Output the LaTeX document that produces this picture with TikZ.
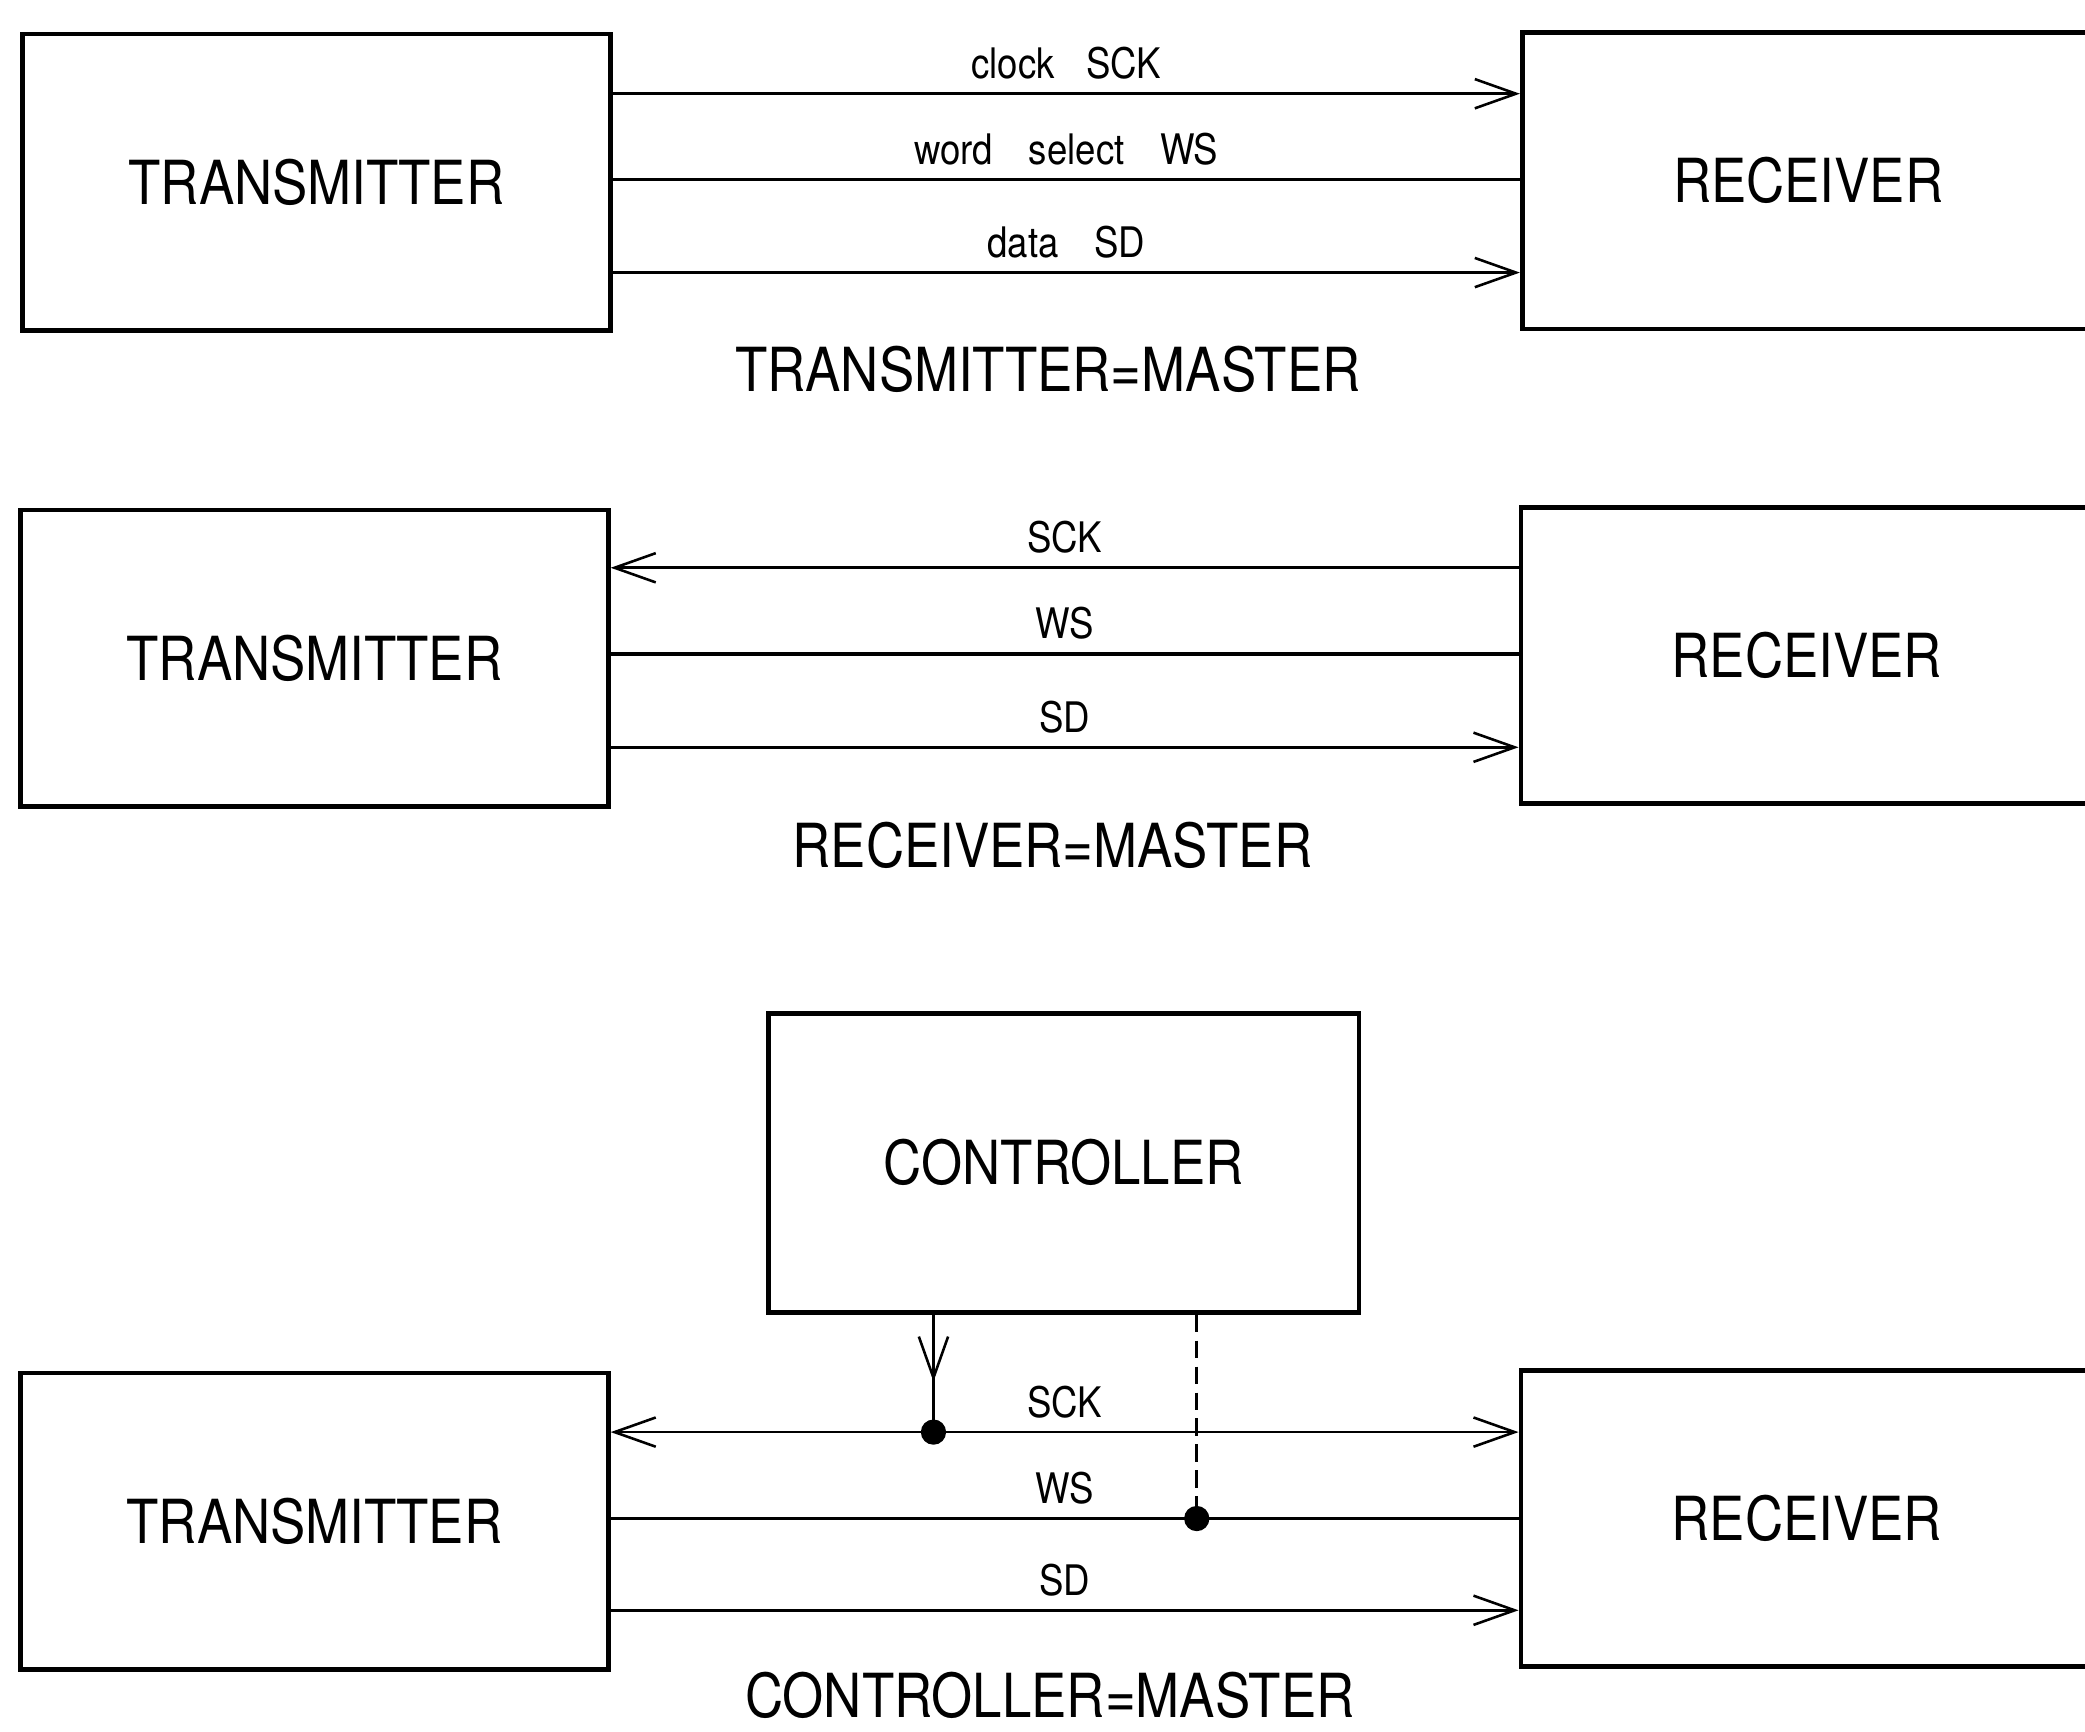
\documentclass[tikz,border=0pt]{standalone}
\usepackage{fontspec}
\setmainfont{TeX Gyre Heros}[FakeStretch=0.87]
\usetikzlibrary{arrows.meta,calc,positioning}
\newcommand{\boxfont}{\fontsize{26}{30}\selectfont}
\newcommand{\sigfont}{\fontsize{18}{21}\selectfont}

\begin{document}
\begin{tikzpicture}[
    >={Straight Barb[length=0.62cm,width=0.44cm]},
    unit/.style={draw, line width=2pt, minimum width=8.84cm, minimum height=4.46cm, inner sep=0pt, font=\boxfont},
    rxunit/.style={unit, anchor=west, minimum width=8.6cm},
    sig/.style={line width=1.1pt},
    wsig/.style={line width=1.6pt},
    lbl/.style={font=\sigfont, above, inner sep=5.5pt},
    mastertag/.style={font=\boxfont, inner sep=0pt},
    junction/.style={circle, fill, inner sep=0pt, minimum size=0.38cm}
  ]
  \useasboundingbox (0,0) rectangle (31.36,26.04);

  % Top: transmitter is master
  \node[unit] (tx1) at (4.76,23.30) {TRANSMITTER};
  \node[rxunit] (rx1) at (22.86,23.32) {RECEIVER};
  \coordinate (sck1) at ([yshift=1.33cm]tx1.east);
  \coordinate (ws1) at ([yshift=0.04cm]tx1.east);
  \coordinate (sd1) at ([yshift=-1.36cm]tx1.east);
  \draw[sig,->] (sck1) -- (sck1 -| rx1.west) node[lbl,midway] {clock\hspace{0.75em}SCK};
  \draw[wsig] (ws1) -- (ws1 -| rx1.west) node[lbl,midway] {word\hspace{0.85em}select\hspace{0.85em}WS};
  \draw[sig,->] (sd1) -- (sd1 -| rx1.west) node[lbl,midway] {data\hspace{0.85em}SD};
  \node[mastertag] (m1) at (15.76,20.48) {TRANSMITTER=MASTER};

  % Middle: receiver is master
  \node[unit] (tx2) at (4.73,16.14) {TRANSMITTER};
  \node[rxunit] (rx2) at (22.84,16.18) {RECEIVER};
  \coordinate (sck2) at ([yshift=1.36cm]tx2.east);
  \coordinate (ws2) at ([yshift=0.06cm]tx2.east);
  \coordinate (sd2) at ([yshift=-1.34cm]tx2.east);
  \draw[sig,->] (sck2 -| rx2.west) -- (sck2) node[lbl,midway] {SCK};
  \draw[wsig] (ws2) -- (ws2 -| rx2.west) node[lbl,midway] {WS};
  \draw[sig,->] (sd2) -- (sd2 -| rx2.west) node[lbl,midway] {SD};
  \node[mastertag] (m2) at (15.83,13.32) {RECEIVER=MASTER};

  % Bottom: controller is master
  \node[unit, minimum width=8.88cm, minimum height=4.5cm] (ctrl) at (16.0,8.55) {CONTROLLER};
  \node[unit] (tx3) at (4.73,3.16) {TRANSMITTER};
  \node[rxunit] (rx3) at (22.84,3.20) {RECEIVER};
  \coordinate (sck3) at ([yshift=1.34cm]tx3.east);
  \coordinate (ws3) at ([yshift=0.04cm]tx3.east);
  \coordinate (sd3) at ([yshift=-1.34cm]tx3.east);
  \draw[sig,<->] (sck3) -- (sck3 -| rx3.west) node[lbl,midway] {SCK};
  \draw[wsig] (ws3) -- (ws3 -| rx3.west) node[lbl,midway] {WS};
  \draw[sig,->] (sd3) -- (sd3 -| rx3.west) node[lbl,midway] {SD};
  \coordinate (c1) at ([xshift=-1.96cm]ctrl.south);
  \coordinate (c2) at ([xshift=2cm]ctrl.south);
  \node[junction] (j1) at (c1 |- sck3) {};
  \node[junction] (j2) at (c2 |- ws3) {};
  \draw[sig] (c1) -- (j1.center);
  \draw[sig,->] (c1) -- ($(c1)!0.57!(j1)$);
  \draw[sig, dash pattern=on 0.26cm off 0.13cm] (c2) -- (j2.center);
  \node[mastertag] (m3) at (15.79,0.54) {CONTROLLER=MASTER};
\end{tikzpicture}
\end{document}
